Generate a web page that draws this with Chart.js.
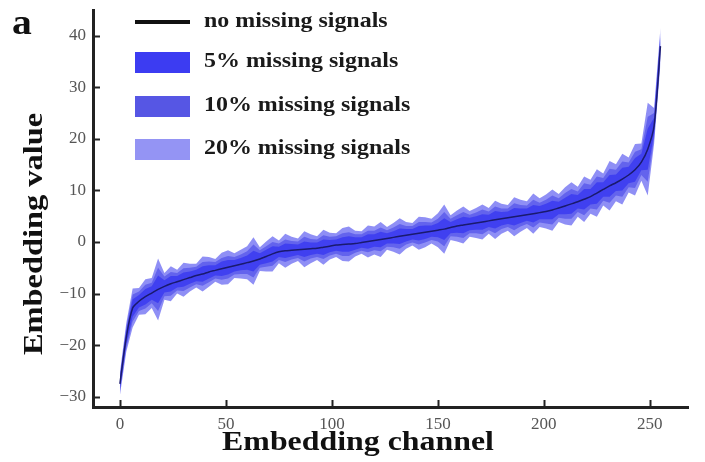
<!DOCTYPE html>
<html>
<head>
<meta charset="utf-8">
<script src="https://cdn.jsdelivr.net/npm/chart.js@4.4.1/dist/chart.umd.min.js"></script>
<style>
  html, body { margin: 0; padding: 0; background: #fff; }
  #embChart { display: block; }
</style>
</head>
<body>
<canvas id="embChart" width="705" height="462"></canvas>
<script>
// sorted embedding channels (every third channel)
const channels = [
  0, 3, 6, 9, 12, 15, 18, 21, 24, 27,
  30, 33, 36, 39, 42, 45, 48, 51, 54, 57,
  60, 63, 66, 69, 72, 75, 78, 81, 84, 87,
  90, 93, 96, 99, 102, 105, 108, 111, 114, 117,
  120, 123, 126, 129, 132, 135, 138, 141, 144, 147,
  150, 153, 156, 159, 162, 165, 168, 171, 174, 177,
  180, 183, 186, 189, 192, 195, 198, 201, 204, 207,
  210, 213, 216, 219, 222, 225, 228, 231, 234, 237,
  240, 243, 246, 249, 252, 255,
];

// embedding with no missing signals
const fullSignal = [
  -27.5, -18.5, -12.8, -11.5, -10.6, -9.9, -9.2, -8.6, -8.1, -7.7,
  -7.3, -6.9, -6.5, -6.2, -5.8, -5.5, -5.2, -4.9, -4.6, -4.3,
  -4.0, -3.7, -3.3, -2.8, -2.3, -1.9, -1.7, -1.6, -1.5, -1.4,
  -1.3, -1.2, -1.0, -0.8, -0.6, -0.5, -0.4, -0.3, -0.1, 0.1,
  0.3, 0.5, 0.7, 0.9, 1.1, 1.3, 1.5, 1.7, 1.9, 2.1,
  2.3, 2.5, 2.8, 3.1, 3.3, 3.5, 3.7, 3.9, 4.1, 4.3,
  4.5, 4.7, 4.9, 5.1, 5.3, 5.5, 5.7, 5.9, 6.2, 6.6,
  7.0, 7.4, 7.8, 8.3, 8.8, 9.5, 10.2, 10.9, 11.5, 12.2,
  13.0, 14.0, 15.5, 18.0, 22.5, 38.0,
];

// half-width of the spread around it for each missing rate
const spread20 = [
  2.2, 2.8, 3.8, 2.6, 3.4, 2.9, 6.0, 2.6, 3.4, 2.3,
  3.3, 2.7, 2.3, 3.4, 2.9, 2.2, 3.1, 3.3, 2.4, 2.8,
  3.2, 4.6, 2.3, 2.9, 3.4, 2.2, 3.3, 2.6, 2.2, 3.5,
  2.8, 2.3, 3.4, 2.6, 2.3, 3.2, 3.4, 2.5, 2.2, 3.1,
  2.7, 3.4, 2.2, 2.8, 3.5, 2.6, 2.2, 3.2, 2.9, 2.4,
  3.3, 4.8, 2.4, 3.0, 3.6, 2.5, 2.9, 3.4, 2.5, 3.7,
  2.9, 2.5, 3.8, 3.1, 2.6, 3.9, 2.8, 3.3, 4.0, 2.7,
  3.6, 4.2, 2.9, 4.4, 3.3, 4.6, 3.1, 4.8, 3.6, 4.9,
  3.4, 5.0, 3.6, 9.0, 3.5, 3.5,
];
const spread10 = [
  1.5, 2.0, 2.6, 1.9, 2.3, 2.0, 4.2, 1.9, 2.3, 1.7,
  2.2, 1.9, 1.7, 2.3, 2.0, 1.6, 2.1, 2.2, 1.7, 1.9,
  2.2, 3.2, 1.7, 2.0, 2.3, 1.6, 2.2, 1.8, 1.6, 2.4,
  1.9, 1.7, 2.3, 1.8, 1.7, 2.2, 2.3, 1.8, 1.6, 2.1,
  1.9, 2.3, 1.6, 1.9, 2.4, 1.8, 1.6, 2.2, 2.0, 1.7,
  2.2, 3.3, 1.7, 2.1, 2.5, 1.8, 2.0, 2.4, 1.8, 2.6,
  2.0, 1.8, 2.6, 2.1, 1.8, 2.7, 1.9, 2.3, 2.8, 1.9,
  2.5, 2.9, 2.0, 3.1, 2.3, 3.2, 2.2, 3.3, 2.5, 3.4,
  2.4, 3.5, 2.5, 6.3, 2.5, 2.5,
];
const spread5 = [
  1.0, 1.3, 1.7, 1.2, 1.5, 1.3, 2.7, 1.2, 1.5, 1.1,
  1.4, 1.2, 1.1, 1.5, 1.3, 1.0, 1.4, 1.4, 1.1, 1.2,
  1.4, 2.0, 1.1, 1.3, 1.5, 1.0, 1.4, 1.2, 1.0, 1.5,
  1.2, 1.1, 1.5, 1.2, 1.1, 1.4, 1.5, 1.2, 1.0, 1.4,
  1.2, 1.5, 1.0, 1.2, 1.5, 1.2, 1.0, 1.4, 1.3, 1.1,
  1.4, 2.1, 1.1, 1.3, 1.6, 1.2, 1.3, 1.5, 1.2, 1.7,
  1.3, 1.2, 1.7, 1.4, 1.2, 1.7, 1.3, 1.5, 1.8, 1.2,
  1.6, 1.9, 1.3, 2.0, 1.5, 2.1, 1.4, 2.1, 1.6, 2.2,
  1.6, 2.3, 1.6, 4.0, 1.6, 1.6,
];

const xTicks = [0, 50, 100, 150, 200, 250];
const yTicks = [-30, -20, -10, 0, 10, 20, 30, 40];

const legendItems = [
  { label: "no missing signals", kind: "line", color: "#111" },
  { label: "5% missing signals", kind: "box", color: "#3c3cf2" },
  { label: "10% missing signals", kind: "box", color: "#5656e4" },
  { label: "20% missing signals", kind: "box", color: "#9494f4" },
];

const bandColors = {
  p20: "rgba(85, 85, 240, 0.66)",
  p10: "rgba(70, 70, 232, 0.6)",
  p5: "rgba(50, 50, 242, 0.7)",
};

const toPoints = (ys) => channels.map((c, i) => ({ x: c, y: ys[i] }));
const upper = (spread) => toPoints(fullSignal.map((v, i) => v + spread[i]));
const lower = (spread) => toPoints(fullSignal.map((v, i) => v - spread[i]));

const bandPair = (spread, color, order) => [
  {
    data: upper(spread),
    borderWidth: 0,
    pointRadius: 0,
    fill: false,
    tension: 0,
    order: order + 1,
  },
  {
    data: lower(spread),
    borderWidth: 0,
    pointRadius: 0,
    backgroundColor: color,
    fill: "-1",
    tension: 0,
    order: order,
  },
];

const serif = "'Liberation Serif', 'DejaVu Serif', serif";

// stretched text helper (bold serif labels are wide in this figure)
const drawStretched = (ctx, text, x, y, font, sx, rotate) => {
  ctx.save();
  ctx.translate(x, y);
  if (rotate) ctx.rotate(-Math.PI / 2);
  ctx.scale(sx, 1);
  ctx.font = font;
  ctx.fillText(text, 0, 0);
  ctx.restore();
};

const decorations = {
  id: "decorations",
  afterDraw(chart) {
    const { ctx, chartArea, scales } = chart;
    ctx.save();

    // inward tick marks
    ctx.strokeStyle = "#222";
    ctx.lineWidth = 2;
    yTicks.forEach((v) => {
      const py = Math.round(scales.y.getPixelForValue(v)) + 0.5;
      ctx.beginPath();
      ctx.moveTo(chartArea.left, py);
      ctx.lineTo(chartArea.left + 7, py);
      ctx.stroke();
    });
    xTicks.forEach((v) => {
      const px = Math.round(scales.x.getPixelForValue(v)) + 0.5;
      ctx.beginPath();
      ctx.moveTo(px, chartArea.bottom);
      ctx.lineTo(px, chartArea.bottom - 7);
      ctx.stroke();
    });

    // axis titles
    ctx.fillStyle = "#111";
    ctx.textAlign = "center";
    ctx.textBaseline = "alphabetic";
    drawStretched(ctx, "Embedding channel", 358, 450, `bold 27px ${serif}`, 1.18, false);
    drawStretched(ctx, "Embedding value", 42, 234, `bold 27px ${serif}`, 1.2, true);

    // panel letter
    ctx.textAlign = "left";
    drawStretched(ctx, "a", 12, 34, `bold 36px ${serif}`, 1.1, false);

    // legend
    const rowsY = [22, 62, 106, 149];
    legendItems.forEach((item, i) => {
      const cy = rowsY[i];
      if (item.kind === "line") {
        ctx.strokeStyle = item.color;
        ctx.lineWidth = 4;
        ctx.beginPath();
        ctx.moveTo(135, cy);
        ctx.lineTo(190, cy);
        ctx.stroke();
      } else {
        ctx.fillStyle = item.color;
        ctx.fillRect(135, cy - 10, 55, 21);
      }
      ctx.fillStyle = "#1a1a1a";
      ctx.textBaseline = "middle";
      drawStretched(ctx, item.label, 204, cy, `bold 21px ${serif}`, 1.14, false);
    });

    ctx.restore();
  },
};

new Chart(document.getElementById("embChart"), {
  type: "line",
  data: {
    datasets: [
      {
        data: toPoints(fullSignal),
        borderColor: "#1a1a6e",
        borderWidth: 1.5,
        pointRadius: 0,
        fill: false,
        tension: 0.3,
        order: 0,
      },
      ...bandPair(spread5, bandColors.p5, 1),
      ...bandPair(spread10, bandColors.p10, 3),
      ...bandPair(spread20, bandColors.p20, 5),
    ],
  },
  options: {
    responsive: false,
    animation: false,
    layout: { padding: { top: 10, right: 17, left: 0, bottom: 0 } },
    plugins: {
      legend: { display: false },
      tooltip: { enabled: false },
    },
    scales: {
      x: {
        type: "linear",
        min: -12.7,
        max: 268,
        grid: { display: false, drawTicks: false },
        border: { display: true, color: "#222", width: 3 },
        afterBuildTicks: (scale) => {
          scale.ticks = xTicks.map((v) => ({ value: v }));
        },
        afterFit: (scale) => {
          scale.height = 55;
          scale.paddingLeft = 0;
          scale.paddingRight = 0;
        },
        ticks: {
          padding: 7,
          color: "#555",
          font: { family: serif, size: 17 },
          maxRotation: 0,
        },
      },
      y: {
        type: "linear",
        min: -32,
        max: 45,
        grid: { display: false, drawTicks: false },
        border: { display: true, color: "#222", width: 3 },
        afterBuildTicks: (scale) => {
          scale.ticks = yTicks.map((v) => ({ value: v }));
        },
        afterFit: (scale) => {
          scale.width = 93;
          scale.paddingTop = 0;
          scale.paddingBottom = 0;
        },
        ticks: {
          padding: 7,
          color: "#555",
          font: { family: serif, size: 17 },
          callback: (v) => (v < 0 ? "\u2212" + Math.abs(v) : v),
        },
      },
    },
  },
  plugins: [decorations],
});
</script>
</body>
</html>
